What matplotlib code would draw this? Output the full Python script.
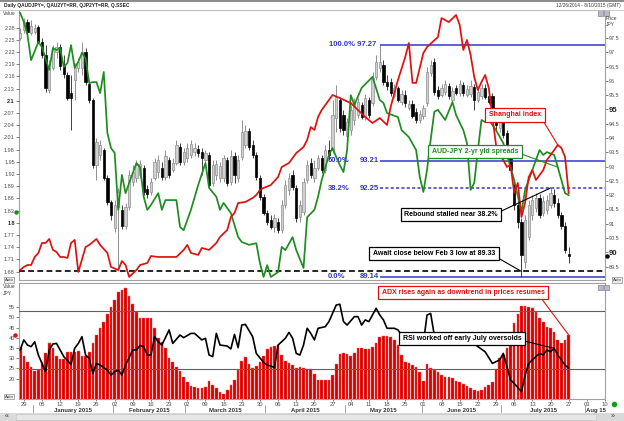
import matplotlib
matplotlib.use('Agg')
import matplotlib.pyplot as plt
import matplotlib.transforms as mtransforms
from matplotlib.patches import Rectangle
from matplotlib.lines import Line2D
import pandas as pd

plt.rcParams['font.family'] = ['Liberation Sans', 'DejaVu Sans']

W, H = 624, 421

# ------------------------------------------------------------------ data
trade_days = pd.bdate_range('2014-12-26', '2015-07-27')   # candles / indicators
axis_days = pd.bdate_range('2014-12-26', '2015-08-10')    # visible date axis

audjpy_open = [
    97.50, 97.78, 98.06, 97.68, 97.71, 97.89, 97.36, 96.91, 95.68, 96.45,
    97.01, 97.19, 96.52, 96.21, 95.58, 96.03, 96.45, 96.45, 97.01, 95.89,
    95.33, 93.06, 93.41, 93.58, 92.60, 91.76, 90.85, 91.59, 91.48, 90.92,
    91.59, 92.46, 92.60, 92.71, 92.95, 92.22, 92.11, 92.60, 92.81, 92.95,
    92.64, 93.23, 92.88, 93.13, 93.69, 93.16, 93.30, 93.41, 93.51, 93.62,
    93.51, 93.23, 93.41, 92.43, 92.71, 92.60, 92.60, 93.23, 92.46, 93.37,
    92.60, 93.34, 93.76, 94.25, 93.76, 93.41, 92.60, 91.94, 91.38, 91.13,
    90.89, 91.06, 90.78, 91.66, 92.18, 92.71, 92.25, 91.24, 91.41, 92.53,
    93.13, 92.60, 92.95, 93.30, 92.88, 93.58, 93.58, 94.70, 95.33, 94.81,
    94.07, 94.28, 94.63, 94.81, 95.16, 94.74, 95.33, 95.23, 96.14, 96.45,
    96.56, 95.96, 95.96, 95.47, 95.75, 95.26, 95.51, 95.05, 95.19, 94.91,
    94.63, 94.77, 95.23, 96.28, 96.66, 95.68, 95.51, 95.61, 95.82, 95.33,
    95.75, 95.58, 95.86, 95.51, 95.54, 95.79, 95.33, 95.47, 95.75, 95.47,
    95.47, 94.77, 94.35, 94.56, 94.18, 93.58, 92.36, 91.66, 91.06, 89.66,
    90.54, 91.31, 91.55, 91.90, 91.38, 91.48, 91.66, 92.01, 91.73, 91.31,
    90.92, 89.94]
audjpy_high = [
    97.85, 98.20, 98.17, 98.13, 97.99, 97.96, 97.50, 97.26, 96.73, 97.26,
    97.36, 97.29, 96.91, 96.31, 96.21, 96.63, 96.80, 97.36, 97.15, 96.03,
    95.40, 94.00, 93.93, 93.65, 92.71, 91.83, 91.83, 92.25, 91.66, 91.73,
    92.88, 93.06, 93.23, 93.23, 93.06, 92.36, 92.60, 93.30, 93.41, 93.16,
    93.58, 93.34, 93.30, 93.93, 93.83, 93.65, 93.83, 93.93, 93.83, 93.76,
    93.65, 93.58, 93.51, 93.23, 93.23, 93.16, 93.41, 93.34, 93.58, 93.51,
    93.41, 94.63, 94.46, 94.35, 93.93, 93.51, 92.71, 92.04, 91.48, 91.31,
    91.34, 91.20, 91.83, 92.53, 92.78, 92.88, 92.36, 91.83, 92.60, 93.23,
    93.30, 93.23, 93.41, 93.41, 93.76, 93.93, 95.33, 95.86, 95.44, 94.98,
    94.70, 95.16, 95.40, 95.40, 95.26, 95.54, 95.44, 96.31, 96.91, 97.27,
    96.73, 96.21, 96.10, 95.89, 95.82, 95.68, 95.68, 95.33, 95.33, 95.05,
    94.98, 95.16, 96.49, 96.73, 96.80, 95.82, 95.89, 96.03, 95.93, 95.79,
    95.86, 96.03, 95.96, 95.86, 96.03, 95.89, 95.75, 95.89, 95.89, 95.61,
    95.58, 95.05, 94.70, 94.63, 94.28, 93.69, 92.53, 91.83, 91.20, 91.31,
    91.83, 92.01, 92.08, 92.04, 91.97, 92.01, 92.25, 92.22, 91.90, 91.41,
    91.06, 90.19]
audjpy_low = [
    97.43, 97.68, 97.61, 97.61, 97.64, 97.33, 96.80, 95.61, 95.58, 96.38,
    96.80, 96.38, 96.10, 95.33, 94.28, 95.33, 96.31, 96.21, 95.86, 95.23,
    92.95, 92.53, 93.23, 92.53, 91.66, 91.13, 90.71, 89.33, 90.82, 90.82,
    91.48, 92.32, 92.46, 92.60, 92.01, 91.90, 92.01, 92.53, 92.60, 92.53,
    92.53, 92.60, 92.81, 93.06, 93.06, 93.06, 93.16, 93.30, 93.37, 93.34,
    92.71, 93.06, 92.25, 92.32, 92.53, 92.46, 92.46, 92.32, 92.36, 92.43,
    92.46, 93.23, 93.65, 93.58, 93.30, 92.53, 91.83, 91.31, 90.96, 90.82,
    90.71, 90.68, 90.68, 91.55, 92.01, 92.18, 91.06, 91.06, 91.31, 92.43,
    92.60, 92.46, 92.88, 92.78, 92.78, 93.23, 93.48, 94.21, 94.21, 94.11,
    93.93, 94.11, 94.46, 94.70, 94.67, 94.63, 94.70, 95.12, 96.03, 96.31,
    95.86, 95.68, 95.47, 95.40, 95.26, 95.16, 95.09, 94.98, 94.70, 94.53,
    94.53, 94.67, 95.12, 96.17, 95.51, 95.37, 95.44, 95.51, 95.37, 95.19,
    95.51, 95.47, 95.47, 95.44, 95.44, 94.98, 95.26, 95.37, 95.37, 95.19,
    94.95, 94.28, 94.21, 94.00, 93.58, 92.78, 91.48, 90.85, 89.14, 89.45,
    90.43, 91.13, 91.41, 91.20, 91.27, 91.34, 91.55, 91.59, 91.20, 90.82,
    89.98, 89.63]
audjpy_close = [
    97.68, 98.06, 97.71, 97.92, 97.85, 97.36, 96.91, 95.75, 96.45, 97.08,
    97.19, 96.52, 96.24, 95.40, 95.40, 96.49, 96.66, 97.01, 95.96, 95.33,
    93.06, 93.86, 93.76, 92.60, 91.76, 91.31, 91.66, 92.11, 90.92, 91.59,
    92.71, 92.81, 93.06, 93.09, 92.11, 92.04, 92.46, 93.16, 93.23, 92.64,
    93.37, 92.71, 93.13, 93.76, 93.16, 93.51, 93.65, 93.79, 93.65, 93.48,
    93.30, 93.48, 92.36, 93.06, 93.09, 93.02, 93.30, 92.43, 93.37, 92.71,
    93.23, 94.21, 94.25, 93.69, 93.41, 92.64, 91.94, 91.38, 91.06, 90.89,
    91.20, 90.78, 91.66, 92.36, 92.60, 92.29, 91.20, 91.66, 92.46, 93.06,
    92.71, 92.95, 93.30, 92.88, 93.58, 93.41, 94.81, 95.44, 94.35, 94.28,
    94.56, 94.98, 95.26, 95.26, 94.74, 95.40, 94.81, 96.10, 96.66, 96.66,
    95.96, 95.82, 95.58, 95.75, 95.33, 95.54, 95.23, 95.19, 94.77, 94.63,
    94.84, 95.05, 96.31, 96.56, 95.61, 95.47, 95.75, 95.89, 95.47, 95.65,
    95.58, 95.89, 95.58, 95.72, 95.82, 95.33, 95.61, 95.75, 95.44, 95.26,
    95.05, 94.46, 94.56, 94.11, 93.69, 92.88, 91.66, 91.06, 89.91, 91.13,
    91.66, 91.83, 91.90, 91.31, 91.80, 91.83, 92.08, 91.73, 91.31, 90.92,
    90.08, 89.87]

# AUD-JPY 2-yr yield spread (left "Value" axis), trading-day index / value
spread_day = [0, 1, 2, 3, 5, 6, 8, 9, 10, 11, 12, 13, 14, 15, 16, 17, 18, 19, 20, 21,
              22, 23, 24, 25, 26, 27, 28, 29, 31, 32, 33, 34, 35, 36, 38, 39, 40, 43, 44, 45,
              47, 49, 51, 52, 54, 55, 56, 58, 60, 61, 63, 65, 66, 67, 68, 69, 71, 72, 73, 75,
              76, 78, 79, 81, 82, 83, 85, 86, 87, 88, 89, 90, 91, 92, 94, 97, 99, 100, 101, 104,
              105, 107, 109, 110, 111, 112, 113, 114, 115, 117, 119, 120, 122, 123, 124, 125,
              126, 127, 128, 129, 131, 133, 135, 136, 138, 139, 140, 142, 143, 144, 145, 147,
              148, 150, 151]
spread_val = [2.316, 2.294, 2.262, 2.200, 2.245, 2.232, 2.176, 2.230, 2.225, 2.230,
              2.183, 2.193, 2.237, 2.181, 2.196, 2.218, 2.205, 2.144, 2.146, 2.146,
              2.119, 2.171, 2.021, 1.984, 1.972, 1.832, 1.918, 1.873, 1.923, 1.947,
              1.937, 1.864, 1.832, 1.844, 1.873, 1.832, 1.856, 1.856, 1.790, 1.782,
              1.832, 1.893, 1.947, 1.886, 1.864, 1.832, 1.849, 1.824, 1.765, 1.753,
              1.746, 1.750, 1.701, 1.667, 1.696, 1.667, 1.679, 1.741, 1.733, 1.765,
              1.733, 1.689, 1.814, 1.832, 1.864, 1.905, 1.967, 1.984, 1.962, 1.942,
              1.925, 1.979, 2.114, 2.090, 2.132, 2.159, 2.102, 2.095, 2.070, 2.060,
              2.028, 2.011, 1.979, 1.913, 1.876, 1.930, 2.004, 2.073, 2.078, 2.053,
              2.097, 2.065, 2.028, 1.996, 1.881, 1.898, 1.979, 2.053, 2.048, 2.053,
              2.028, 1.996, 1.937, 1.905, 1.827, 1.881, 1.905, 1.955, 1.979, 1.967,
              1.974, 1.967, 1.937, 1.873, 1.868]
spread_marker = 1.826

# Shanghai Composite (hidden scale)
ssec_day = [0, 1, 2, 3, 4, 5, 6, 7, 8, 9, 10, 11, 12, 13, 14, 15, 16, 18, 19, 21,
            22, 24, 25, 27, 28, 29, 30, 32, 33, 35, 36, 38, 43, 45, 46, 47, 49, 50, 52, 54,
            55, 57, 58, 59, 60, 62, 64, 65, 66, 67, 69, 71, 72, 74, 76, 78, 79, 80, 81, 82,
            83, 86, 88, 91, 93, 95, 97, 99, 101, 102, 104, 106, 107, 108, 109, 111, 112, 115,
            116, 118, 120, 121, 122, 123, 124, 125, 126, 127, 128, 129, 130, 131, 132, 133,
            134, 135, 136, 137, 138, 139, 140, 141, 142, 143, 144, 145, 146, 147, 148, 149,
            150, 151]
ssec_val = [3072, 3097, 3113, 3113, 3179, 3212, 3294, 3294, 3327, 3237, 3220, 3179, 3179,
            3171, 3294, 3319, 3056, 3261, 3278, 3327, 3278, 3212, 3097, 3072, 3146, 3113,
            3015, 3072, 3113, 3130, 3187, 3179, 3179, 3237, 3278, 3212, 3196, 3253, 3237,
            3294, 3343, 3401, 3507, 3540, 3622, 3631, 3663, 3688, 3729, 3746, 3770, 3836,
            3918, 3951, 4033, 4082, 4140, 4246, 4222, 4328, 4386, 4509, 4484, 4443, 4386,
            4328, 4279, 4320, 4263, 4411, 4632, 4821, 4936, 4608, 4608, 4854, 4903, 4985,
            5141, 5108, 5166, 5084, 4879, 4961, 4838, 4657, 4550, 4616, 4673, 4567, 4328,
            4099, 4016, 3975, 3918, 3934, 3704, 3787, 3507, 3622, 3836, 3893, 3811, 3852,
            3893, 3975, 4016, 4057, 4099, 4074, 4000, 3704]

# ADX (bars) for every trading day
adx = [35.7, 31.3, 28.0, 25.9, 23.8, 24.3, 28.0, 32.8, 37.3, 35.2,
       31.3, 29.5, 29.5, 32.9, 32.9, 33.2, 33.6, 31.3, 31.1, 33.2,
       37.3, 41.4, 44.7, 48.0, 51.7, 55.3, 58.6, 62.3, 63.5, 64.3,
       60.7, 56.5, 52.9, 49.6, 49.6, 49.6, 49.6, 44.7, 40.1, 38.1,
       35.2, 30.3, 28.0, 25.9, 23.8, 21.0, 18.2, 16.6, 16.1, 15.3,
       15.6, 16.1, 18.9, 16.9, 15.3, 13.6, 12.3, 14.5, 16.9, 19.4,
       24.3, 28.8, 30.8, 27.0, 25.4, 26.4, 28.0, 31.3, 34.6, 35.4,
       36.0, 36.5, 31.6, 28.7, 27.9, 26.7, 25.4, 25.6, 25.1, 24.7,
       24.6,
       22.1, 19.4, 19.4, 19.4, 19.4, 21.8, 27.0, 32.1, 32.4, 32.1,
       31.1, 32.4, 35.2, 35.2, 34.6, 34.6, 35.7, 37.3, 40.6, 41.1,
       41.1, 40.6, 38.9, 36.5, 31.6, 28.0, 27.5, 26.7, 25.9, 23.4,
       18.9, 27.0, 25.4, 24.3, 23.4, 21.8, 21.0, 21.0, 20.2, 18.9,
       18.2, 17.2, 16.4, 15.3, 14.5, 14.0, 14.5, 16.1, 16.9, 18.2,
       24.6, 30.3, 31.6, 34.9, 40.6, 47.1, 51.5, 55.8, 55.8, 55.3,
       54.5, 52.9, 49.9, 48.0, 45.5, 45.0, 42.7, 38.9, 37.3, 38.9,
       41.4]

# RSI line
rsi_day = [0, 1, 2, 3, 4, 5, 7, 8, 9, 10, 11, 12, 14, 15, 16, 17, 18, 19, 20, 21,
           22, 24, 25, 26, 27, 28, 29, 31, 32, 33, 34, 35, 36, 37, 38, 39, 41, 42, 44, 45,
           47, 48, 49, 50, 51, 52, 53, 54, 55, 57, 58, 59, 60, 61, 62, 64, 65, 67, 68, 69,
           70, 71, 73, 74, 75, 76, 77, 78, 79, 80, 81, 82, 84, 85, 87, 88, 89, 90, 92, 93,
           94, 95, 96, 98, 99, 100, 101, 103, 104, 105, 108, 110, 111, 112, 113, 114, 117,
           121, 125, 128, 130, 132, 133, 135, 136, 138, 139, 140, 141, 143, 144, 145, 146,
           147, 148, 150, 151]
rsi_val = [34.1, 39.0, 36.5, 35.7, 38.1, 31.6, 23.4, 34.1, 37.0, 37.3, 34.1, 30.8, 27.0,
           34.9, 37.3, 40.6, 31.6, 30.0, 22.6, 27.5, 26.7, 24.2, 21.8, 23.4, 24.2, 21.8,
           26.7, 34.1, 34.1, 36.2, 35.7, 31.6, 31.6, 40.6, 38.1, 36.5, 43.9, 37.3, 41.4,
           40.1, 42.2, 42.2, 40.6, 39.0, 39.8, 31.6, 30.8, 42.2, 36.5, 36.0, 34.6, 41.7,
           35.2, 46.3, 46.6, 40.6, 32.4, 28.0, 26.7, 26.2, 25.4, 36.5, 39.8, 42.7, 39.8,
           32.4, 31.6, 36.5, 44.7, 42.2, 39.0, 44.7, 45.5, 48.0, 56.1, 56.5, 48.0, 46.3,
           50.4, 50.4, 46.3, 48.8, 48.0, 54.5, 51.2, 48.8, 44.7, 44.7, 43.9, 41.4, 36.5,
           36.5, 37.3, 51.2, 52.0, 41.4, 38.0, 40.0, 37.0, 33.2, 27.5, 29.2, 32.4, 19.4,
           17.7, 13.6, 21.8, 27.5, 29.2, 32.4, 31.6, 34.1, 33.2, 34.9, 31.6, 26.7, 25.1]
osc_levels = [53.1, 24.8]

fib_labels = ['100.0%', '50.0%', '38.2%', '0.0%']
fib_levels = [97.27, 93.21, 92.25, 89.14]
fib_styles = ['-', '-', (0, (2, 1.5)), '-']
fib_start_day = 99
feb3_low = 89.33

value_ticks = [2.28, 2.25, 2.22, 2.19, 2.16, 2.13, 2.1, 2.07, 2.04, 2.01, 1.98,
               1.95, 1.92, 1.89, 1.86, 1.83, 1.8, 1.77, 1.74, 1.71, 1.68]
value_ticklabels = ['2.28', '2.25', '2.22', '2.19', '2.16', '2.13', '2.1', '2.07', '2.04',
                    '2.01', '1.98', '1.95', '1.92', '1.89', '1.86', '1.83', '1.8', '1.77',
                    '1.74', '1.71', '1.68']
value_bold = ['2.1', '1.8']
price_ticks = [97.5, 97, 96.5, 96, 95.5, 95, 94.5, 94, 93.5, 93, 92.5, 92, 91.5, 91,
               90.5, 90, 89.5]
price_ticklabels = ['97.5', '97', '96.5', '96', '95.5', '95', '94.5', '94', '93.5', '93',
                    '92.5', '92', '91.5', '91', '90.5', '90', '89.5']
price_bold = ['95', '90']
osc_ticks = [55, 50, 45, 40, 35, 30, 25, 20]
osc_ticklabels = ['55', '50', '45', '40', '35', '30', '25', '20']
month_labels = ['January 2015', 'February 2015', 'March 2015', 'April 2015',
                'May 2015', 'June 2015', 'July 2015', 'Aug 15']

# ------------------------------------------------------------------ figure
fig = plt.figure(figsize=(W / 100, H / 100), dpi=100)
fig.patch.set_facecolor('white')

L, R = 19, 605
T1, B1 = 10, 280
T2, B2 = 283, 399
rect1 = [L / W, 1 - B1 / H, (R - L) / W, (B1 - T1) / H]
rect2 = [L / W, 1 - B2 / H, (R - L) / W, (B2 - T2) / H]
XLIM = (-0.33, 160.9)
SPINE = '#a0a0a0'
TICKC = '#505050'


def ftxt(px, py, s, **kw):
    return fig.text(px / W, 1 - py / H, s, **kw)


ax_p = fig.add_axes(rect1)
ax_v = fig.add_axes(rect1, sharex=ax_p)
ax_s = fig.add_axes(rect1, sharex=ax_p)
for a in (ax_v, ax_s):
    a.set_facecolor('none')
    for sp in a.spines.values():
        sp.set_visible(False)
for sp in ax_p.spines.values():
    sp.set_color(SPINE)
    sp.set_linewidth(0.8)

ax_p.set_xlim(*XLIM)
ax_p.set_ylim(89.03, 98.48)
ax_v.set_ylim(1.6595, 2.3234)
ax_s.set_ylim(2990, 5207)

# candles
idx = list(range(len(trade_days)))
up_i = [i for i in idx if audjpy_close[i] >= audjpy_open[i]]
dn_i = [i for i in idx if audjpy_close[i] < audjpy_open[i]]


def body(ii):
    bot = [min(audjpy_open[i], audjpy_close[i]) for i in ii]
    hgt = [max(abs(audjpy_close[i] - audjpy_open[i]), 0.025) for i in ii]
    return bot, hgt


ax_p.vlines(up_i, [audjpy_low[i] for i in up_i], [audjpy_high[i] for i in up_i],
            color='#8e8e8e', lw=0.7, zorder=2)
ax_p.vlines(dn_i, [audjpy_low[i] for i in dn_i], [audjpy_high[i] for i in dn_i],
            color='#404040', lw=0.7, zorder=2)
b, h = body(up_i)
ax_p.bar(up_i, h, bottom=b, width=0.62, color='#d0d0d0', edgecolor='#8e8e8e',
         linewidth=0.5, zorder=3)
b, h = body(dn_i)
ax_p.bar(dn_i, h, bottom=b, width=0.62, color='black', edgecolor='black',
         linewidth=0.5, zorder=3)

# Fibonacci retracement lines and labels
FIB_C = '#3434d4'
for lab, lev, ls in zip(fib_labels, fib_levels, fib_styles):
    ax_p.hlines(lev, fib_start_day, XLIM[1], colors=FIB_C, lw=1.1, linestyles=ls, zorder=4)
tr_p = mtransforms.blended_transform_factory(ax_p.transAxes, ax_p.transData)
for lab, lev in zip(fib_labels, fib_levels):
    if lab == '100.0%':
        ax_p.text((329 - L) / (R - L), lev, f'{lab} {lev:.2f}', transform=tr_p,
                  fontsize=5.5, fontweight='bold', color=FIB_C, va='center', ha='left',
                  zorder=6)
    else:
        ax_p.text((328 - L) / (R - L), lev, lab, transform=tr_p, fontsize=5.5,
                  fontweight='bold', color=FIB_C, va='center', ha='left', zorder=6)
        ax_p.text((360 - L) / (R - L), lev, f'{lev:.2f}', transform=tr_p, fontsize=5.5,
                  fontweight='bold', color=FIB_C, va='center', ha='left', zorder=6)

# Feb 3 low dashed line
ax_p.axhline(feb3_low, color='black', lw=1.2, ls=(0, (3.5, 2)), zorder=4)

# right price axis
ax_p.yaxis.tick_right()
ax_p.set_yticks(price_ticks)
ax_p.set_yticklabels(price_ticklabels)
ax_p.tick_params(axis='y', direction='out', length=2, width=0.5, colors=TICKC,
                 labelsize=4, pad=1)
for t in ax_p.get_yticklabels():
    if t.get_text() in price_bold:
        t.set_fontweight('bold')
        t.set_fontsize(5.6)
        t.set_color('#222')
ax_p.tick_params(axis='x', bottom=False, labelbottom=False)
tr_pr = mtransforms.blended_transform_factory(ax_p.transAxes, ax_p.transData)
ax_p.plot([1.004], [audjpy_close[-1]], 'o', ms=2.2, color='black', transform=tr_pr,
          clip_on=False, zorder=7)

# spread line + left axis
ax_v.plot(spread_day, spread_val, color='#1f8c1f', lw=1.25, zorder=3)
ax_v.yaxis.tick_left()
ax_v.set_yticks(value_ticks)
ax_v.set_yticklabels(value_ticklabels)
ax_v.tick_params(axis='y', direction='out', length=2, width=0.5, colors=TICKC,
                 labelsize=4, pad=1)
for t in ax_v.get_yticklabels():
    if t.get_text() in value_bold:
        t.set_fontweight('bold')
        t.set_color('#222')
ax_v.tick_params(axis='x', bottom=False, labelbottom=False)
tr_v = mtransforms.blended_transform_factory(ax_v.transAxes, ax_v.transData)
ax_v.plot([-0.005], [spread_marker], 'o', ms=2.2, color='#1f8c1f', transform=tr_v,
          clip_on=False, zorder=7)

# Shanghai line
ax_s.plot(ssec_day, ssec_val, color='#e01010', lw=1.25, zorder=3)
ax_s.set_yticks([])
ax_s.tick_params(axis='x', bottom=False, labelbottom=False)

# annotations (top panel) – drawn on the top-most axes
ANN_FS = 5


def box(ec):
    return dict(boxstyle='square,pad=0.5', fc='white', ec=ec, lw=0.9)


def fpx(px, py):
    return (px, H - py)


ax_s.annotate('Shanghai index', xy=(148, ssec_val[ssec_day.index(148)]),
              xycoords=ax_s.transData, xytext=fpx(515, 115), textcoords='figure pixels',
              fontsize=ANN_FS, fontweight='bold', color='#e01010', ha='center', va='center',
              bbox=box('#e01010'), annotation_clip=False, zorder=10,
              arrowprops=dict(arrowstyle='-', color='#e01010', lw=0.8, shrinkA=0, shrinkB=0,
                              relpos=(1, 0.15)))
ax_s.annotate('AUD-JPY 2-yr yld spreads', xy=(148, spread_val[spread_day.index(148)]),
              xycoords=ax_v.transData, xytext=fpx(475, 151.5), textcoords='figure pixels',
              fontsize=ANN_FS, fontweight='bold', color='#1f8c1f', ha='center', va='center',
              bbox=box('#1f8c1f'), annotation_clip=False, zorder=10,
              arrowprops=dict(arrowstyle='-', color='#1f8c1f', lw=0.8, shrinkA=0, shrinkB=0,
                              relpos=(1, 0.3)))
ax_s.annotate('Rebound stalled near 38.2%', xy=(146, fib_levels[2]),
              xycoords=ax_p.transData, xytext=fpx(451, 214.5), textcoords='figure pixels',
              fontsize=ANN_FS, fontweight='bold', color='black', ha='center', va='center',
              bbox=box('black'), annotation_clip=False, zorder=10,
              arrowprops=dict(arrowstyle='-', color='black', lw=0.8, shrinkA=0, shrinkB=0,
                              relpos=(1, 0.75)))
ax_s.annotate('Await close below Feb 3 low at 89.33', xy=(138, feb3_low),
              xycoords=ax_p.transData, xytext=fpx(434, 253.5), textcoords='figure pixels',
              fontsize=ANN_FS, fontweight='bold', color='black', ha='center', va='center',
              bbox=box('black'), annotation_clip=False, zorder=10,
              arrowprops=dict(arrowstyle='-', color='black', lw=0.8, shrinkA=0, shrinkB=0,
                              relpos=(1, 0.1)))

# ------------------------------------------------------------------ lower panel
ax2 = fig.add_axes(rect2, sharex=ax_p)
for sp in ax2.spines.values():
    sp.set_color(SPINE)
    sp.set_linewidth(0.8)
ax2.set_xlim(*XLIM)
ax2.set_ylim(10.05, 66.9)
ax2.bar(idx, adx, width=0.72, color='#d90000', edgecolor='#ff6060', linewidth=0.3,
        zorder=2)
for lv in osc_levels:
    ax2.axhline(lv, color='#606060', lw=0.8, zorder=3)
ax2.plot(rsi_day, rsi_val, color='black', lw=1.2, zorder=4)
ax2.set_yticks(osc_ticks)
ax2.set_yticklabels(osc_ticklabels)
ax2.tick_params(axis='y', direction='out', length=2, width=0.5, colors=TICKC,
                labelsize=4, pad=1)
tr_2 = mtransforms.blended_transform_factory(ax2.transAxes, ax2.transData)
ax2.plot([-0.006], [adx[-1]], 'o', ms=2.2, color='#e01010', transform=tr_2,
         clip_on=False, zorder=7)

ax2.annotate('ADX rises again as downtrend in prices resumes', xy=(151, adx[-1]),
             xycoords='data', xytext=fpx(463, 292.5), textcoords='figure pixels',
             fontsize=ANN_FS, fontweight='bold', color='#e01010', ha='center', va='center',
             bbox=box('#e01010'), annotation_clip=False, zorder=10,
             arrowprops=dict(arrowstyle='-', color='#e01010', lw=0.8, shrinkA=0, shrinkB=0,
                             relpos=(0.97, 0)))
ax2.annotate('RSI worked off early July oversolds', xy=(147, rsi_val[rsi_day.index(147)]),
             xycoords='data', xytext=fpx(462, 338.5), textcoords='figure pixels',
             fontsize=ANN_FS, fontweight='bold', color='black', ha='center', va='center',
             bbox=box('black'), annotation_clip=False, zorder=10,
             arrowprops=dict(arrowstyle='-', color='black', lw=0.8, shrinkA=0, shrinkB=0,
                             relpos=(1, 0.25)))

# date axis: weekly labels (Mondays), month labels and separators
mondays = [i for i, d in enumerate(axis_days) if d.weekday() == 0]
ax2.set_xticks(mondays)
ax2.set_xticklabels([axis_days[i].strftime('%d') for i in mondays])
ax2.tick_params(axis='x', direction='out', length=1.5, width=0.5, colors=TICKC,
                labelsize=4.2, pad=0.8)
tr_x = mtransforms.blended_transform_factory(ax2.transData, ax2.transAxes)
months = sorted(set((d.year, d.month) for d in axis_days))
mi = 0
for (yy, mm) in months:
    pos = [i for i, d in enumerate(axis_days) if d.year == yy and d.month == mm]
    if yy == 2014:
        continue
    ax2.text(sum(pos) / len(pos), -0.097, month_labels[mi], transform=tr_x, fontsize=4.3,
             fontweight='bold', color='#333', ha='center', va='center', clip_on=False)
    ax2.plot([pos[0] - 0.5, pos[0] - 0.5], [-0.055, -0.125], color='#999', lw=0.6,
             transform=tr_x, clip_on=False)
    mi += 1

# ------------------------------------------------------------------ chrome
fig.add_artist(Line2D([0, 1], [1 - 0.6 / H] * 2, transform=fig.transFigure,
                      color='#8a8a8a', lw=1.4))
fig.add_artist(Line2D([0, 1], [1 - 9.5 / H] * 2, transform=fig.transFigure,
                      color='#c8c8c8', lw=0.6))
ftxt(4, 5, 'Daily QAUDJPY=, QAU2YT=RR, QJP2YT=RR, Q.SSEC', fontsize=3.5,
     fontweight='bold', color='#222', ha='left', va='center')
ftxt(621, 5, '12/26/2014 - 8/10/2015 (GMT)', fontsize=3.4, color='#333', ha='right',
     va='center')
ftxt(3, 13.5, 'Value', fontsize=3.6, color='#444', ha='left', va='center')
ftxt(606, 21.5, 'Price\nJPY', fontsize=3.6, color='#444', ha='left', va='center',
     linespacing=1.4)
ftxt(3, 290, 'Value\nJPY', fontsize=3.6, color='#444', ha='left', va='center',
     linespacing=1.4)
for (px, py) in [(9, 280), (9, 396.5), (617, 280)]:
    ftxt(px, py, 'Auto', fontsize=3.1, color='#333', ha='center', va='center',
         bbox=dict(boxstyle='square,pad=0.15', fc='#ececec', ec='#909090', lw=0.5))
for (px, py) in [(598, 10.5), (604, 10.5), (598, 285), (604, 285)]:
    fig.add_artist(Rectangle((px / W, 1 - (py + 5) / H), 5 / W, 5 / H,
                             transform=fig.transFigure, fc='#b8b8c8', ec='#707080',
                             lw=0.4))
fig.add_artist(Rectangle((0, 0), 1, 8.5 / H, transform=fig.transFigure, fc='#d9d9d9',
                         ec='none'))
fig.add_artist(Rectangle((16 / W, 1.2 / H), 580 / W, 6 / H, transform=fig.transFigure,
                         fc='#e6e6e6', ec='#c0c0c0', lw=0.4))
ftxt(7, 416.5, '\u00ab', fontsize=5, color='#333', ha='center', va='center')
ftxt(613, 416.5, '\u00bb', fontsize=5, color='#333', ha='center', va='center')
fig.add_artist(Line2D([614 / W], [1 - 404 / H], marker='o', ms=3, color='#1a9a1a',
                      transform=fig.transFigure))

fig.savefig('out.png', dpi=100, facecolor='white')
